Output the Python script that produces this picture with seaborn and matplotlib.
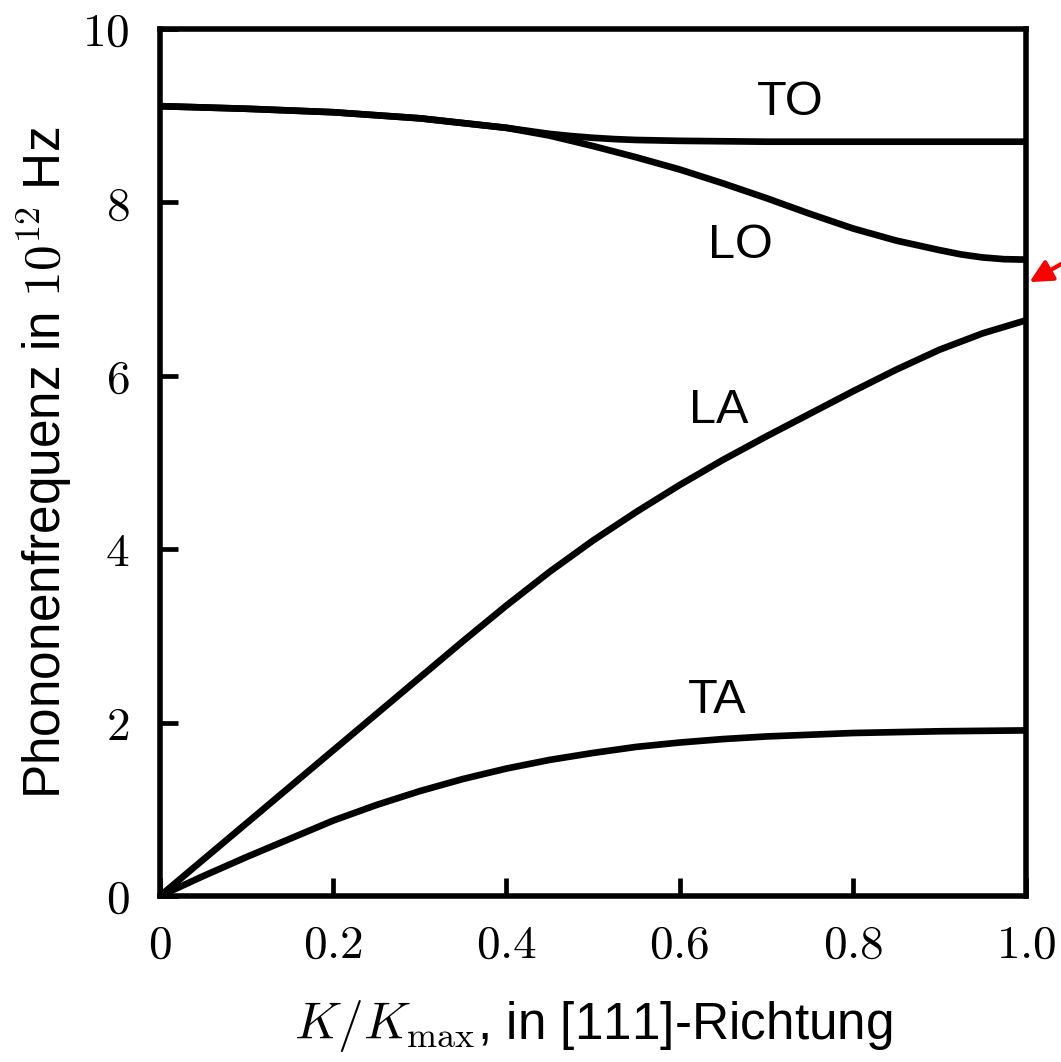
import numpy as np
import pandas as pd
import matplotlib
matplotlib.use("Agg")
import matplotlib.pyplot as plt
import seaborn as sns

# ---- data ----
k_ac = [0.0, 0.05, 0.1, 0.15, 0.2, 0.25, 0.3, 0.35, 0.4, 0.45, 0.5,
        0.55, 0.6, 0.65, 0.7, 0.75, 0.8, 0.85, 0.9, 0.95, 1.0]
la = [0.0, 0.42, 0.84, 1.26, 1.68, 2.10, 2.52, 2.94, 3.35, 3.74, 4.10,
      4.43, 4.74, 5.03, 5.30, 5.56, 5.82, 6.07, 6.30, 6.49, 6.64]
ta = [0.0, 0.23, 0.45, 0.66, 0.87, 1.05, 1.21, 1.35, 1.47, 1.57, 1.65,
      1.72, 1.77, 1.81, 1.84, 1.86, 1.88, 1.89, 1.90, 1.905, 1.91]

k_to = [0.0, 0.1, 0.2, 0.3, 0.4, 0.45, 0.475, 0.5, 0.525, 0.55, 0.6,
        0.65, 0.7, 0.8, 0.9, 1.0]
to = [9.11, 9.08, 9.04, 8.97, 8.86, 8.79, 8.765, 8.745, 8.73, 8.72, 8.71,
      8.705, 8.70, 8.70, 8.70, 8.70]

k_lo = [0.0, 0.1, 0.2, 0.3, 0.4, 0.45, 0.5, 0.55, 0.6, 0.65, 0.7, 0.75,
        0.8, 0.85, 0.9, 0.925, 0.95, 0.975, 1.0]
lo = [9.11, 9.08, 9.04, 8.97, 8.86, 8.77, 8.65, 8.52, 8.38, 8.22, 8.05, 7.87,
      7.70, 7.56, 7.45, 7.40, 7.365, 7.345, 7.34]

branch_labels = ["TO", "LO", "LA", "TA"]
label_x = [0.728, 0.67, 0.645, 0.643]
label_y = [9.15, 7.50, 5.60, 2.25]

x_ticks = [0, 0.2, 0.4, 0.6, 0.8, 1.0]
x_ticklabels = ["0", "0.2", "0.4", "0.6", "0.8", "1.0"]
y_ticks = [0, 2, 4, 6, 8, 10]
y_ticklabels = ["0", "2", "4", "6", "8", "10"]

arrow_target = (1.004, 7.08)
arrow_tail = (1.06, 7.40)

# ---- build long-form table ----
frames = []
for name, xs, ys in [("TO", k_to, to), ("LO", k_lo, lo), ("LA", k_ac, la), ("TA", k_ac, ta)]:
    frames.append(pd.DataFrame({"k": xs, "f": ys, "branch": name}))
df = pd.concat(frames, ignore_index=True)

sns.set_theme(style="white")
plt.rcParams["font.family"] = ["Liberation Sans", "DejaVu Sans"]
plt.rcParams["mathtext.fontset"] = "cm"
plt.rcParams["text.color"] = "black"
plt.rcParams["axes.labelcolor"] = "black"

fig = plt.figure(figsize=(10.61, 10.62), dpi=100)
ax = fig.add_axes([0.1508, 0.1563, 0.8162, 0.8164])

sns.lineplot(data=df, x="k", y="f", hue="branch", units="branch",
             estimator=None, sort=False, palette=["black"] * 4,
             linewidth=4.8, legend=False, ax=ax)
for ln in ax.lines:
    ln.set_solid_capstyle("round")
    ln.set_solid_joinstyle("round")

ax.set_xlim(0, 1.0)
ax.set_ylim(0, 10)
ax.set_xticks(x_ticks)
ax.set_xticklabels(["$" + t + "$" for t in x_ticklabels])
ax.set_yticks(y_ticks)
ax.set_yticklabels(["$" + t + "$" for t in y_ticklabels])
ax.tick_params(axis="both", direction="in", length=13, width=3.4,
               labelsize=34, colors="black", top=False, right=False,
               bottom=True, left=True)
ax.tick_params(axis="x", pad=20)
ax.tick_params(axis="y", pad=22)

for sp in ax.spines.values():
    sp.set_visible(True)
    sp.set_color("black")
    sp.set_linewidth(4.0)

ax.set_xlabel(r"$K/K_{\mathrm{max}}$, in [111]-Richtung", fontsize=37,
              labelpad=22, color="black")
ax.set_ylabel(r"Phononenfrequenz in $10^{12}$ Hz", fontsize=37,
              labelpad=6, color="black")

for name, lx, ly in zip(branch_labels, label_x, label_y):
    ax.text(lx, ly, name, fontsize=35, ha="center", va="center", color="black")

ax.annotate("", xy=arrow_target, xytext=arrow_tail, xycoords="data",
            textcoords="data", annotation_clip=False,
            arrowprops=dict(arrowstyle="-|>", color="red", lw=3,
                            mutation_scale=34, shrinkA=0, shrinkB=0))

fig.savefig("out.png", dpi=100, facecolor="white")
